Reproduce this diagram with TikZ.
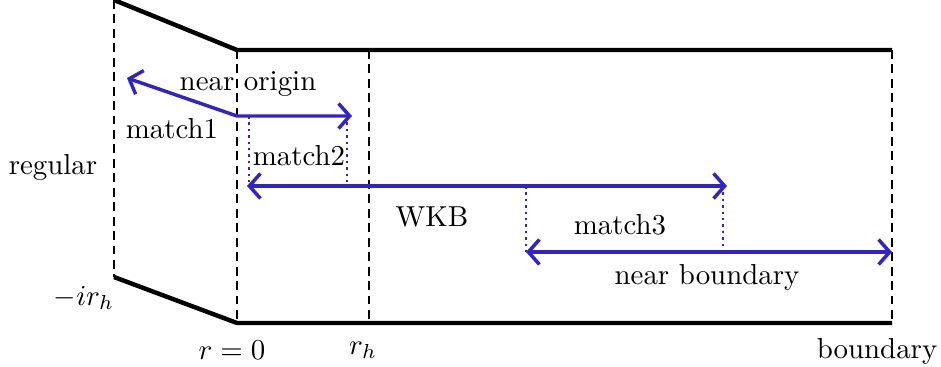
\documentclass[tikz,border=0pt]{standalone}
\usetikzlibrary{arrows.meta}
\definecolor{arrowblue}{RGB}{48,36,200}
\begin{document}
\begin{tikzpicture}[x=0.36pt,y=-0.36pt,
  edge/.style={line width=1.6pt},
  guide/.style={line width=0.8pt,dash pattern=on 3.2pt off 2pt},
  span/.style={arrowblue,line width=1.25pt,{Straight Barb[length=4pt,width=9pt]}-{Straight Barb[length=4pt,width=9pt]}},
  linkdots/.style={arrowblue,line width=0.9pt,dash pattern=on 0.9pt off 1.4pt},
  lbl/.style={inner sep=0pt,scale=1.04}]
\path[use as bounding box] (0,0) rectangle (941,366);
% frame corners
\coordinate (TL) at (114,0);
\coordinate (BL) at (114,277);
\coordinate (T0) at (237,50);
\coordinate (B0) at (237,323);
\coordinate (Th) at (369,50);
\coordinate (Bh) at (369,323);
\coordinate (TR) at (892,50);
\coordinate (BR) at (892,323);
% solid edges
\draw[edge] (TL) -- (T0) -- (TR);
\draw[edge] (BL) -- (B0) -- (BR);
% dashed guides
\draw[guide] (TL) -- (BL);
\draw[guide] (T0) -- (B0);
\draw[guide] (Th) -- (Bh);
\draw[guide] (TR) -- (BR);
% blue ranges
\coordinate (n1) at (127,78);
\coordinate (n2) at (237,116);
\coordinate (n3) at (352,116);
\draw[span] (n1) -- (n2) -- (n3);
\coordinate (w1) at (247,186);
\coordinate (w2) at (727,186);
\draw[span] (w1) -- (w2);
\coordinate (b1) at (526,252);
\coordinate (b2) at (892,252);
\draw[span] (b1) -- (b2);
% matching links
\coordinate (m2a) at (249,116);
\coordinate (m2b) at (249,186);
\coordinate (m2c) at (347,116);
\coordinate (m2d) at (347,186);
\draw[linkdots] (m2a) -- (m2b);
\draw[linkdots] (m2c) -- (m2d);
\coordinate (m3a) at (526,186);
\coordinate (m3b) at (526,252);
\coordinate (m3c) at (723,186);
\coordinate (m3d) at (723,252);
\draw[linkdots] (m3a) -- (m3b);
\draw[linkdots] (m3c) -- (m3d);
% labels
\node[lbl] (lno) at (248,84) {near origin};
\node[lbl] (lm1) at (172,129) {match1};
\node[lbl] (lm2) at (299,156) {match2};
\node[lbl] (lreg) at (53,167) {regular};
\node[lbl] (lwkb) at (432,217) {WKB};
\node[lbl] (lm3) at (620,225) {match3};
\node[lbl] (lnb) at (707,277) {near boundary};
\node[lbl] (lir) at (84,298) {$-ir_h$};
\node[lbl] (lr0) at (232,350) {$r=0$};
\node[lbl] (lrh) at (363,350) {$r_h$};
\node[lbl] (lbd) at (877,351) {boundary};
\end{tikzpicture}
\end{document}
